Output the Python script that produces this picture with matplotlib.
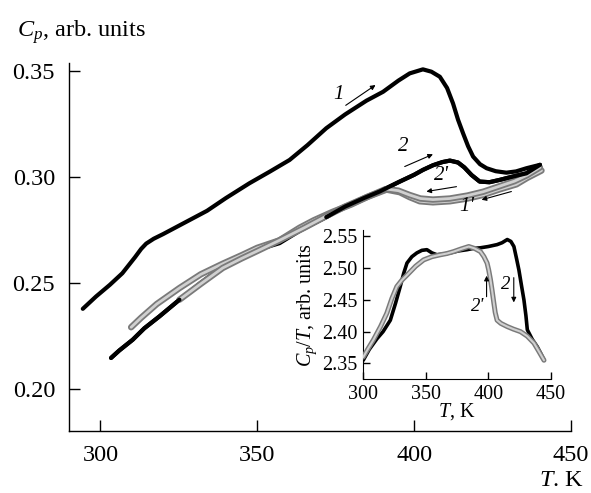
import numpy as np
import matplotlib
matplotlib.use('Agg')
import matplotlib.pyplot as plt

plt.rcParams['font.family'] = ['Liberation Serif', 'DejaVu Serif']
plt.rcParams['mathtext.fontset'] = 'custom'
plt.rcParams['mathtext.rm'] = 'Liberation Serif'
plt.rcParams['mathtext.it'] = 'Liberation Serif:italic'
plt.rcParams['lines.solid_joinstyle'] = 'round'
plt.rcParams['lines.solid_capstyle'] = 'round'

# main plot: Cp vs T
t1 = [294.4, 298.6, 303, 307, 311, 313, 314.6, 317, 320, 327, 334, 340, 347.5, 354, 360.3,
      366, 372, 378, 384.8, 390.1, 395, 398.6, 402.8, 405.5, 408.2, 410.5, 412.4, 414, 415.6,
      417.2, 418.8, 421, 423.1, 426, 429.4, 432.5, 435.8, 440.1]
cp1 = [0.2377, 0.2435, 0.2490, 0.2545, 0.2620, 0.2660, 0.2685, 0.2708, 0.2730, 0.2785,
       0.2840, 0.2900, 0.2970, 0.3025, 0.3080, 0.3150, 0.3230, 0.3295, 0.3360, 0.3402,
       0.3455, 0.3489, 0.3508, 0.3497, 0.3473, 0.3420, 0.3347, 0.3270, 0.3206, 0.3145,
       0.3096, 0.3060, 0.3041, 0.3027, 0.3020, 0.3026, 0.3041, 0.3057]

t2 = [303.4, 306, 310.3, 314, 318.8, 325.2, 332, 339, 345, 351, 357.1, 363.5, 368, 372, 378,
      384, 389, 395, 400, 402.8, 406, 409, 411.4, 414, 416, 418.3, 420.9, 424, 427.3, 431,
      435.8, 440.1]
cp2 = [0.2145, 0.2180, 0.2231, 0.2285, 0.2341, 0.2420, 0.2500, 0.2577, 0.2625, 0.2660,
       0.2687, 0.2745, 0.2780, 0.2810, 0.2860, 0.2900, 0.2931, 0.2975, 0.3010, 0.3033,
       0.3055, 0.3070, 0.3077, 0.3068, 0.3045, 0.3009, 0.2978, 0.2975, 0.2986, 0.3000,
       0.3017, 0.3057]

t1c = [440.6, 436, 432.6, 427, 422, 417, 411.4, 406, 401.8, 398.5, 395.4, 391.2, 385, 380,
       374, 368, 363.5, 357, 350, 345, 339, 332, 325.2, 318, 313, 309.8]
cp1c = [0.3030, 0.2995, 0.2965, 0.2940, 0.2915, 0.2898, 0.2885, 0.2880, 0.2885, 0.2905,
        0.2928, 0.2940, 0.2905, 0.2870, 0.2835, 0.2795, 0.2760, 0.2700, 0.2665, 0.2630,
        0.2590, 0.2540, 0.2475, 0.2400, 0.2335, 0.2290]

t2c = [440.1, 436, 432, 427, 422, 417, 411.4, 406, 402, 398.5, 395, 391, 385, 378, 372, 365,
       357, 350, 345, 339, 332, 325.2]
cp2c = [0.3045, 0.3008, 0.2980, 0.2955, 0.2930, 0.2912, 0.2898, 0.2893, 0.2898, 0.2915,
        0.2935, 0.2943, 0.2905, 0.2860, 0.2815, 0.2760, 0.2700, 0.2650, 0.2615, 0.2570,
        0.2495, 0.2420]

# inset: Cp/T vs T
ti2 = [300.2, 305, 311.2, 316, 321.8, 326, 329.7, 332.5, 335.1, 339, 343, 347, 351, 355, 359,
       364, 369.6, 376, 383, 388, 393.7, 400, 407, 411, 415.1, 418, 420.4, 422.5, 424.4,
       426.5, 428.4, 430, 431.1, 435, 439.1, 442, 444.4]
ci2 = [2.355, 2.372, 2.389, 2.400, 2.418, 2.445, 2.471, 2.492, 2.508, 2.518, 2.524, 2.528,
       2.529, 2.524, 2.521, 2.522, 2.524, 2.527, 2.529, 2.531, 2.532, 2.534, 2.537, 2.540,
       2.545, 2.542, 2.534, 2.515, 2.497, 2.472, 2.450, 2.425, 2.403, 2.388, 2.376, 2.365,
       2.355]

ti2c = [444.4, 440, 436.4, 431, 425.7, 420, 415.1, 410, 407, 405.5, 404.4, 403, 401.7, 400.3,
        399, 396.5, 393.7, 389, 384.4, 378, 372.3, 367, 361.7, 355, 348.4, 342, 335.1, 331,
        327, 323, 319, 314, 308.3, 304, 300.2]
ci2c = [2.355, 2.370, 2.382, 2.393, 2.400, 2.404, 2.408, 2.413, 2.418, 2.430, 2.445, 2.465,
        2.482, 2.497, 2.508, 2.518, 2.526, 2.531, 2.534, 2.530, 2.526, 2.523, 2.521, 2.518,
        2.513, 2.503, 2.489, 2.481, 2.471, 2.452, 2.429, 2.408, 2.387, 2.373, 2.360]

main_xticks = [300, 350, 400, 450]
main_yticks = [0.20, 0.25, 0.30, 0.35]
inset_xticks = [300, 350, 400, 450]
inset_yticks = [2.35, 2.40, 2.45, 2.50, 2.55]


def gray_curve(ax, x, y, outer=4.6, inner=2.0, z=3):
    ax.plot(x, y, color='#7a7a7a', lw=outer, zorder=z)
    ax.plot(x, y, color='#d0d0d0', lw=inner, zorder=z)


def arrow(ax, x0, y0, x1, y1):
    ax.annotate('', xy=(x1, y1), xytext=(x0, y0),
                arrowprops=dict(arrowstyle='-|>', lw=0.8, color='black',
                                mutation_scale=7, shrinkA=0, shrinkB=0))


fig = plt.figure(figsize=(5.91, 4.93), dpi=100)
ax = fig.add_axes([69 / 591, 1 - 431 / 493, (571 - 69) / 591, (431 - 63) / 493])

ax.plot(t1, cp1, color='black', lw=3, zorder=2)
ax.plot(t2, cp2, color='black', lw=3, zorder=2)
gray_curve(ax, t1c, cp1c)
gray_curve(ax, t2c, cp2c)
t2 = np.array(t2)
cp2 = np.array(cp2)
# heating curve 2 lies on top of the cooling curves at both ends
ax.plot(t2[t2 >= 372], cp2[t2 >= 372], color='black', lw=3, zorder=4)
ax.plot(t2[t2 <= 325.2], cp2[t2 <= 325.2], color='black', lw=3, zorder=4)

ax.set_xlim(290, 450)
ax.set_ylim(0.18, 0.3538)
ax.set_xticks(main_xticks)
ax.set_yticks(main_yticks)
ax.set_yticklabels(['%.2f' % v for v in main_yticks])
ax.spines['top'].set_visible(False)
ax.spines['right'].set_visible(False)
for s in ['left', 'bottom']:
    ax.spines[s].set_linewidth(1.0)
ax.tick_params(direction='in', length=8, width=1.0, labelsize=17.5)
ax.tick_params(axis='y', pad=10)
ax.tick_params(axis='x', pad=10)

ax.text(376.0, 0.3387, '1', style='italic', fontsize=15, ha='center', va='center')
arrow(ax, 378.2, 0.3338, 387.7, 0.3434)
ax.text(396.5, 0.3143, '2', style='italic', fontsize=15, ha='center', va='center')
arrow(ax, 397.0, 0.3049, 406.0, 0.3107)
ax.text(408.7, 0.3009, "2'", style='italic', fontsize=15, ha='center', va='center')
arrow(ax, 413.5, 0.2954, 403.9, 0.2931)
ax.text(416.7, 0.2862, "1'", style='italic', fontsize=15, ha='center', va='center')
arrow(ax, 431.0, 0.2931, 421.5, 0.2892)

fig.text(17 / 591, 1 - 32 / 493, r'$C_p$, arb. units', fontsize=17.5, ha='left', va='center')
fig.text(584 / 591, 1 - 481 / 493, r'$T$. K', fontsize=17.5, ha='right', va='center')

# inset
ins = fig.add_axes([363 / 591, 1 - 379.3 / 493, (551 - 363) / 591, (379.3 - 230) / 493])
ins.plot(ti2, ci2, color='black', lw=2.6, zorder=2)
gray_curve(ins, ti2c, ci2c, outer=3.6, inner=1.5)
ins.set_xlim(300, 450)
ins.set_ylim(2.325, 2.56)
ins.set_xticks(inset_xticks)
ins.set_yticks(inset_yticks)
ins.set_yticklabels(['%.2f' % v for v in inset_yticks])
ins.spines['top'].set_visible(False)
ins.spines['right'].set_visible(False)
ins.tick_params(direction='in', length=5, width=1.0, labelsize=14.5)
ins.tick_params(axis='y', pad=4)
ins.tick_params(axis='x', pad=4)
ins.set_xlabel(r'$T$, K', fontsize=14.5, labelpad=-2)
ins.set_ylabel(r'$C_p/T$, arb. units', fontsize=14.5, labelpad=2)

ins.text(413.7, 2.474, '2', style='italic', fontsize=13.5, ha='center', va='center')
arrow(ins, 420.3, 2.485, 420.3, 2.446)
ins.text(391.2, 2.440, "2'", style='italic', fontsize=13.5, ha='center', va='center')
arrow(ins, 398.6, 2.455, 398.6, 2.488)

fig.savefig('out.png', dpi=100)
